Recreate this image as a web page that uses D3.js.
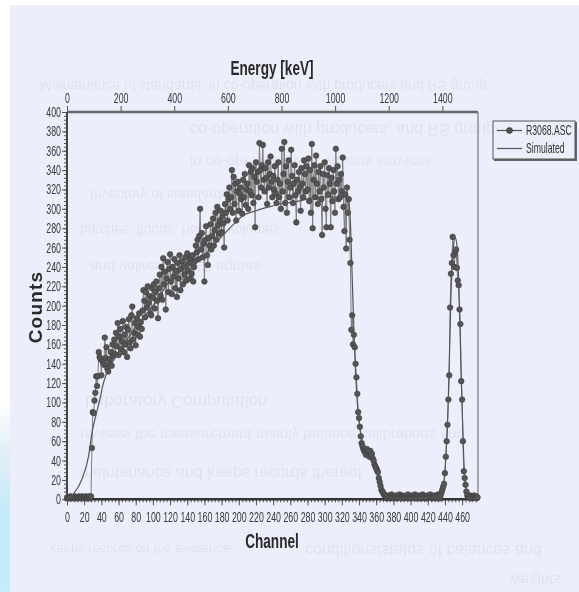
<!DOCTYPE html>
<html>
<head>
<meta charset="utf-8">
<script src="https://cdn.jsdelivr.net/npm/d3@7"></script>
<style>
html, body { margin: 0; padding: 0; background: #fff; overflow: hidden; }
svg { display: block; filter: blur(0.45px); }
text { font-family: "Liberation Sans", sans-serif; }
</style>
</head>
<body>
<div id="chart"></div>
<script>
// measured counts, array index = channel number
var lowChannels = [1,2,1,2,3,2,1,2,2,3,1,2,2,1,3,2,2,1,3,2,1,2,3,1,2,2,3,1,3];
var riseChannels = [53,90,89,102,110,127,117,127,152,147,145,128,143,142,139,167,146,157,135,132,140,
  145,152,138,160,148,165,150,172,158,182,
  149,168,176,155,163,184,152,170,160,178,
  147,175,186,162,156,190,199,165,172,182,
  159,187,170,178,192,168,183,176,195,216,
  205,188,214,198,220,203,210,192,190,218,
  208,222,197,214,225,205,187,218,232,210,
  240,206,249,222,235,196,228,245,214,238,
  253,225,212,240,230,248,218,236,209,244,
  228,252,216,238,246,222,241,232,250,226,
  254,236,244,228,249,233,252,225,240,246];
var plateauChannels = [262,255,268,248,272,300,258,275,250,264,
  225,268,282,252,242,270,262,284,258,272,
  290,262,278,296,268,302,283,274,288,298,
  276,292,285,260,305,296,315,288,310,322,
  300,312,340,296,333,305,326,288,318,328,
  298,316,322,310,295,330,312,336,304,320,
  326,300,345,318,338,314,342,306,333,281,
  348,328,338,312,368,340,322,345,366,330,
  318,342,332,305,348,322,336,354,328,312,
  334,320,344,316,306,330,348,312,326,300,
  362,318,336,369,306,344,296,328,350,312,
  322,361,334,306,326,345,314,286,330,318,
  338,322,298,342,326,312,350,336,318,344,
  320,352,308,340,296,367,280,330,345,312,
  355,326,305,338,318,344,310,273,336,322,
  348,300,281,335,315,342,326,281,332,308,
  340,318,296,362,326,344,310,330,312,336,
  318,353,302,277,315,259,322,296,310,268];
var edgeChannels = [244,175,190,160,170,157,140,126,109,90,84,75,65,58,55,52,50,49,46,52,48,50,44,50,46,47,42,40,36,34,32,30,28,22,18,14,10,8,7,5,4];
var valleyChannels = [3,1,2,4,2,1,3,5,2,1,3,2,4,1,2,3,5,2,1,4,3,2,1,3,4,2,5,1,3,2,
  1,4,2,3,5,2,1,3,4,2,1,3,2,5,4,1,2,3,1,4,2,3,5,2,1,3,2,4,3,1,2,5,3,1,4];
var peakChannels = [7,10,13,16,27,44,60,77,103,128,198,233,244,271,252,240,256,258,239,226,221,196,181,122,103,60,29,22,15,8,4,3,
  2,4,3,1,3,2,4,2,3,1,2];
var counts = lowChannels.concat(riseChannels, plateauChannels, edgeChannels, valleyChannels, peakChannels);

var simChannels = [0,8,17,25,29,34,39,41,46,52,60,70,80,90,100,110,120,130,140,150,160,170,184,195,205,220,235,248,270,291,310,325,328,330,332,334,336,338,340,344,350,356,362,368,375,390,435,438,441,444,447,450,452,454,456,458,460,462,464,467,470,478];
var simCounts = [0,6,20,44,68,88,106,115,130,140,152,165,178,189,200,213,226,234,240,246,252,262,275,285,293,298,302,305,308,312,312,312,308,285,230,175,130,100,80,60,50,42,25,8,2,1,3,12,42,105,210,262,270,262,225,160,95,40,14,3,1,1];

var channelTicks = d3.range(0, 461, 20);
var channelMinor = d3.range(0, 477, 4);
var energyTicks = [0, 200, 400, 600, 800, 1000, 1200, 1400];
var countTicks = d3.range(0, 401, 20);
var countMinor = d3.range(0, 401, 4);
var legendLabels = ["R3068.ASC", "Simulated"];

// show-through from the back of the scanned page
var ghostLines = [
  "Maintenance of standards, in co-operation with producers and RS group",
  "co-operation with producers, and RS group",
  "in co-operation with various services",
  "Inventory of standards (2000) samples",
  "batches, floods, hoods, volumes",
  "and valves and 10 agmas",
  "Laboratory Computation",
  "reviews the measurement mainly balance calibrations and",
  "maintenance and keeps records thereof",
  "keeps records on the existence/",
  "conditions/status of balances and",
  "weights"
];
var ghostX = [40, 190, 190, 90, 80, 90, 85, 80, 80, 50, 305, 510];
var ghostY = [81, 124, 157, 190, 225, 262, 396, 430, 468, 545, 545, 575];
var ghostSize = [14, 16, 15, 14, 14, 15, 17, 15, 16, 13, 16, 15];

var width = 579, height = 592;
var left = 67, right = 478, top_ = 112, bottom = 499.3;

var svg = d3.select("#chart").append("svg")
  .attr("width", width)
  .attr("height", height);

var grad = svg.append("defs").append("linearGradient")
  .attr("id", "edge").attr("x1", 0).attr("y1", 0).attr("x2", 0).attr("y2", 1);
grad.append("stop").attr("offset", "0").attr("stop-color", "#ffffff");
grad.append("stop").attr("offset", "0.3").attr("stop-color", "#dfeef6");
grad.append("stop").attr("offset", "0.6").attr("stop-color", "#c3eafb");
grad.append("stop").attr("offset", "1").attr("stop-color", "#c6ecfb");

svg.append("rect").attr("width", width).attr("height", height).attr("fill", "#fff");
svg.append("rect").attr("x", 0).attr("y", 400).attr("width", 10).attr("height", 192).attr("fill", "url(#edge)");
svg.append("rect").attr("x", 10).attr("y", 5).attr("width", width - 10).attr("height", height - 5).attr("fill", "#eceefc");

var ghost = svg.append("g").attr("fill", "#e1e2ee");
ghostLines.forEach(function(line, i) {
  ghost.append("text")
    .attr("transform", "translate(" + ghostX[i] + "," + ghostY[i] + ") scale(1,-1)")
    .attr("font-size", ghostSize[i])
    .text(line);
});

var x = d3.scaleLinear().domain([0, 478.5]).range([left, right]);
var xTop = d3.scaleLinear().domain([0, 1533]).range([left, right]);
var y = d3.scaleLinear().domain([0, 400]).range([bottom, top_]);

// no narrow font installed, so squeeze each text around its own x
var narrow = function(sel, f) {
  sel.each(function() {
    var tx = +this.getAttribute("x") || 0;
    d3.select(this).attr("transform", "translate(" + tx + ",0) scale(" + f + ",1) translate(" + (-tx) + ",0)");
  });
};

var styleAxis = function(g, size) {
  g.selectAll("text").attr("font-size", size).attr("fill", "#3a3a3a").call(narrow, 0.63);
  g.selectAll("line").attr("stroke", "#555");
  g.select(".domain").remove();
};

// minor ticks go first, majors on top
svg.append("g").attr("transform", "translate(0," + bottom + ")")
  .call(d3.axisBottom(x).tickValues(channelMinor).tickSize(3).tickFormat(""))
  .call(styleAxis, 14);
svg.append("g").attr("transform", "translate(" + left + ",0)")
  .call(d3.axisLeft(y).tickValues(countMinor).tickSize(3).tickFormat(""))
  .call(styleAxis, 14);

svg.append("g").attr("transform", "translate(0," + bottom + ")")
  .call(d3.axisBottom(x).tickValues(channelTicks).tickSize(6).tickPadding(7))
  .call(styleAxis, 14);
svg.append("g").attr("transform", "translate(" + left + ",0)")
  .call(d3.axisLeft(y).tickValues(countTicks).tickSize(5).tickPadding(1))
  .call(styleAxis, 14);
svg.append("g").attr("transform", "translate(0," + top_ + ")")
  .call(d3.axisTop(xTop).tickValues(energyTicks).tickSize(6).tickPadding(3).tickFormat(d3.format("d")))
  .call(styleAxis, 14);

// plot frame, thick on three sides
svg.append("line").attr("x1", left).attr("x2", right).attr("y1", top_).attr("y2", top_)
  .attr("stroke", "#666").attr("stroke-width", 2.6);
svg.append("line").attr("x1", left).attr("x2", right).attr("y1", bottom).attr("y2", bottom)
  .attr("stroke", "#333").attr("stroke-width", 2.4);
svg.append("line").attr("x1", left).attr("x2", left).attr("y1", top_).attr("y2", bottom)
  .attr("stroke", "#444").attr("stroke-width", 2);
svg.append("line").attr("x1", right).attr("x2", right).attr("y1", top_).attr("y2", bottom)
  .attr("stroke", "#777").attr("stroke-width", 1.2);

var measuredLine = d3.line()
  .x(function(d, i) { return x(i); })
  .y(function(d) { return y(d); });

svg.append("path").datum(counts)
  .attr("d", measuredLine)
  .attr("fill", "none")
  .attr("stroke", "#808080")
  .attr("stroke-width", 1);

svg.append("g").selectAll("circle").data(counts).enter().append("circle")
  .attr("cx", function(d, i) { return x(i); })
  .attr("cy", function(d) { return y(d); })
  .attr("r", 2.8)
  .attr("fill", "#555")
  .attr("stroke", "#3a3a3a")
  .attr("stroke-width", 0.6);

var simLine = d3.line()
  .x(function(d, i) { return x(simChannels[i]); })
  .y(function(d) { return y(d); })
  .curve(d3.curveMonotoneX);

svg.append("path").datum(simCounts)
  .attr("d", simLine)
  .attr("fill", "none")
  .attr("stroke", "#555")
  .attr("stroke-width", 1.2);

// titles
svg.append("text").attr("x", 272).attr("y", 75).attr("text-anchor", "middle")
  .attr("font-size", 20).attr("font-weight", "bold").attr("fill", "#2a2a2a").text("Energy [keV]").call(narrow, 0.68);
svg.append("text").attr("x", 272).attr("y", 548).attr("text-anchor", "middle")
  .attr("font-size", 20).attr("font-weight", "bold").attr("fill", "#2a2a2a").text("Channel").call(narrow, 0.68);
svg.append("text")
  .attr("transform", "translate(42,307) rotate(-90)")
  .attr("text-anchor", "middle")
  .attr("font-size", 19).attr("font-weight", "bold").attr("fill", "#2a2a2a")
  .attr("letter-spacing", 1.2)
  .text("Counts");

// legend box, shadow edge drawn as a darker offset rect
var legend = svg.append("g");
legend.append("rect").attr("x", 494).attr("y", 122).attr("width", 83).attr("height", 39).attr("fill", "#666");
legend.append("rect").attr("x", 493).attr("y", 121).attr("width", 82).attr("height", 38)
  .attr("fill", "#eceefc").attr("stroke", "#555").attr("stroke-width", 1);

legendLabels.forEach(function(label, i) {
  var ly = 130.5 + i * 18;
  legend.append("line").attr("x1", 497).attr("x2", 522).attr("y1", ly).attr("y2", ly)
    .attr("stroke", "#555").attr("stroke-width", 1.2);
  if (i == 0) {
    legend.append("circle").attr("cx", 509.5).attr("cy", ly).attr("r", 3)
      .attr("fill", "#4f4f4f").attr("stroke", "#333").attr("stroke-width", 0.6);
  }
  legend.append("text").attr("x", 526).attr("y", ly + 5)
    .attr("font-size", 14).attr("fill", "#333").text(label).call(narrow, 0.62);
});
</script>
</body>
</html>
